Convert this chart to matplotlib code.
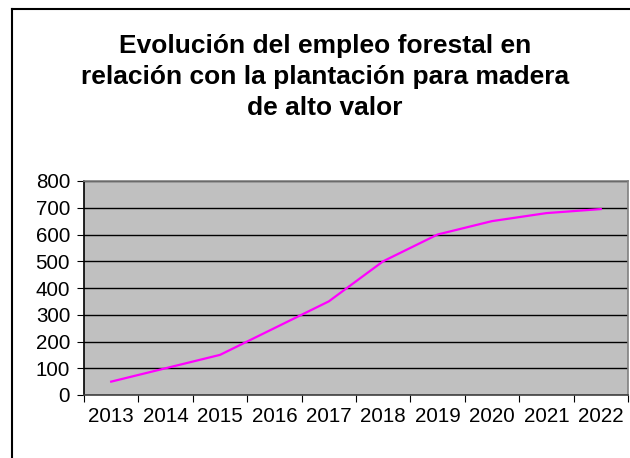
import numpy as np
import matplotlib
matplotlib.use("Agg")
import matplotlib.pyplot as plt
from matplotlib.lines import Line2D

plt.rcParams['font.family'] = ['Liberation Sans', 'DejaVu Sans']

# Data
years = ["2013", "2014", "2015", "2016", "2017", "2018", "2019", "2020", "2021", "2022"]
empleo = [50, 100, 150, 250, 350, 500, 600, 650, 680, 695]

title = "Evolución del empleo forestal en\nrelación con la plantación para madera\nde alto valor"

fig = plt.figure(figsize=(6.3, 4.58), dpi=100)

# outer chart frame (cropped at right and bottom)
W, H = 630, 458
fx = 12 / W
fy = 1 - 8.5 / H
fig.add_artist(Line2D([fx, fx], [0, fy], transform=fig.transFigure, color="black", lw=1.5))
fig.add_artist(Line2D([fx, 1], [fy, fy], transform=fig.transFigure, color="black", lw=1.5))

fig.text(325 / W, 1 - 77 / H, title, ha="center", va="center",
         fontsize=19, fontweight="bold", linespacing=1.38)

ax = fig.add_axes([84 / W, (H - 395) / H, (628 - 84) / W, (395 - 181) / H])
ax.set_facecolor("#C0C0C0")

x = np.arange(len(years)) + 0.5
ax.plot(x, empleo, color="#FF00FF", lw=1.6, zorder=3)

ax.set_xlim(0, len(years))
ax.set_ylim(0, 800)
ax.set_yticks(range(0, 801, 100))
ax.set_xticks(np.arange(len(years) + 1))
ax.set_xticklabels([])
ax.set_xticks(x, minor=True)
ax.set_xticklabels(years, minor=True)
ax.tick_params(axis="x", which="minor", length=0, pad=9, labelsize=14.8)
ax.tick_params(axis="x", which="major", length=5, direction="out", color="black")
ax.tick_params(axis="y", length=5, direction="out", labelsize=14.8, pad=5)

ax.yaxis.grid(True, color="black", lw=1)
ax.set_axisbelow(True)

ax.spines["left"].set_color("black")
ax.spines["bottom"].set_color("#404040")
ax.spines["top"].set_color("#808080")
ax.spines["right"].set_color("#808080")
for s in ax.spines.values():
    s.set_linewidth(1.2)

fig.savefig("out.png", dpi=100)
